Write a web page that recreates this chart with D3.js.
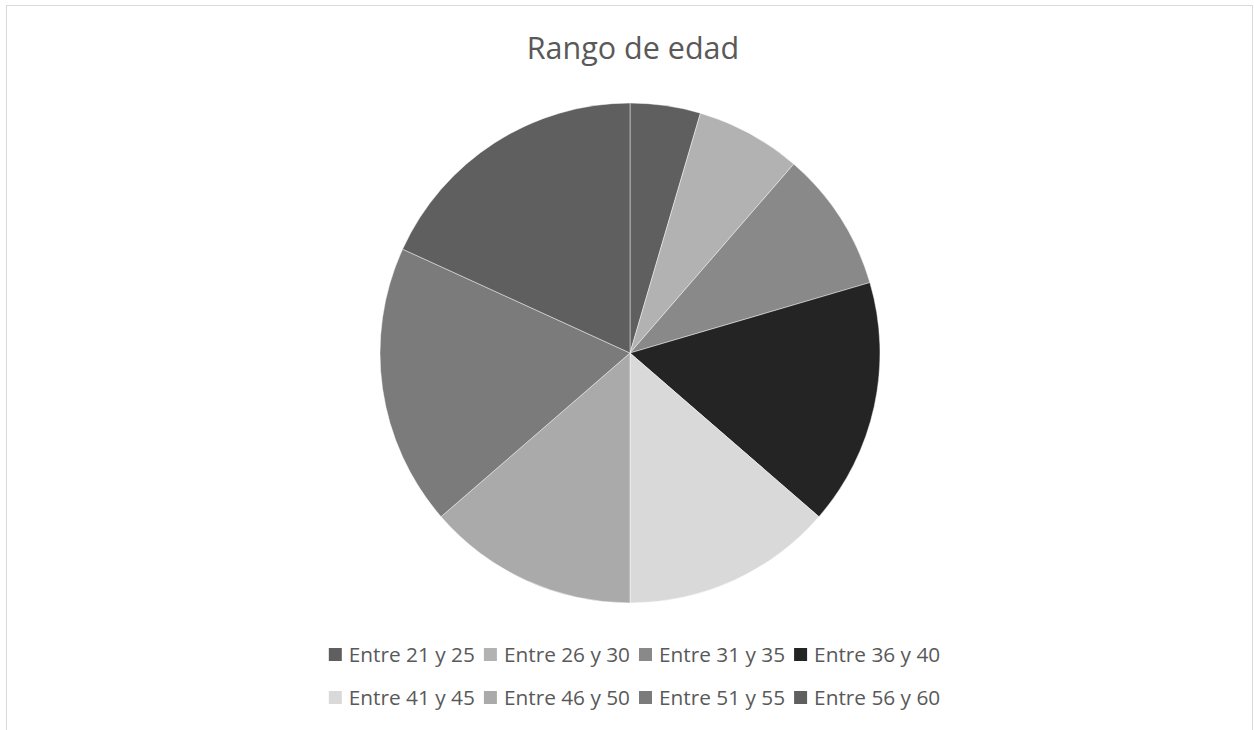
<!DOCTYPE html>
<html>
<head>
<meta charset="utf-8">
<script src="https://cdn.jsdelivr.net/npm/d3@7"></script>
<style>
  body { margin: 0; background: #fff; }
  svg { display: block; }
</style>
</head>
<body>
<svg width="1254" height="730"></svg>
<script>
let width = 1254, height = 730;

// data (counts)
const categories = ["Entre 21 y 25", "Entre 26 y 30", "Entre 31 y 35", "Entre 36 y 40",
                    "Entre 41 y 45", "Entre 46 y 50", "Entre 51 y 55", "Entre 56 y 60"];
const values = [2, 3, 4, 7, 6, 6, 8, 8];
const colors = ["#5f5f5f", "#b2b2b2", "#898989", "#242424",
                "#d9d9d9", "#aaaaaa", "#7b7b7b", "#5f5f5f"];
const title = "Rango de edad";

let svg = d3.select("svg");

// chart area border
svg.append("rect")
    .attr("x", 6.5).attr("y", 5.5)
    .attr("width", 1246).attr("height", 740)
    .attr("fill", "#fff")
    .attr("stroke", "#d9d9d9")
    .attr("stroke-width", 1);

svg.append("text")
    .attr("x", 633).attr("y", 59)
    .attr("text-anchor", "middle")
    .attr("font-family", "Open Sans")
    .attr("font-size", 30.5)
    .attr("fill", "#595959")
    .text(title);

let cx = 630, cy = 353, radius = 250;

let pie = d3.pie().sort(null).value(d => d);
let arc = d3.arc().innerRadius(0).outerRadius(radius);

let color = d3.scaleOrdinal().domain(categories).range(colors);

svg.append("g")
    .attr("transform", `translate(${cx},${cy})`)
    .selectAll("path")
    .data(pie(values))
    .enter()
    .append("path")
    .attr("d", arc)
    .attr("fill", (d, i) => color(categories[i]))
    .attr("stroke", "#ffffff")
    .attr("stroke-opacity", 0.6)
    .attr("stroke-width", 0.75);

// legend, 4 items per row, centred
let sw = 13, gapSq = 7, gapItem = 9;
let rows = [categories.slice(0, 4), categories.slice(4)];
let baselines = [662, 705];

rows.forEach((row, r) => {
    let g = svg.append("g");
    let items = row.map(c => {
        let t = g.append("text")
            .attr("font-family", "Open Sans")
            .attr("font-size", 20.8)
            .attr("fill", "#595959")
            .attr("y", baselines[r])
            .text(c);
        return { c: c, t: t, w: t.node().getComputedTextLength() };
    });
    let total = d3.sum(items, d => sw + gapSq + d.w) + gapItem * (items.length - 1);
    let x = 634.5 - total / 2;
    items.forEach(d => {
        g.append("rect")
            .attr("x", x).attr("y", baselines[r] - 14)
            .attr("width", sw).attr("height", sw)
            .attr("fill", color(d.c));
        d.t.attr("x", x + sw + gapSq);
        x += sw + gapSq + d.w + gapItem;
    });
});
</script>
</body>
</html>
